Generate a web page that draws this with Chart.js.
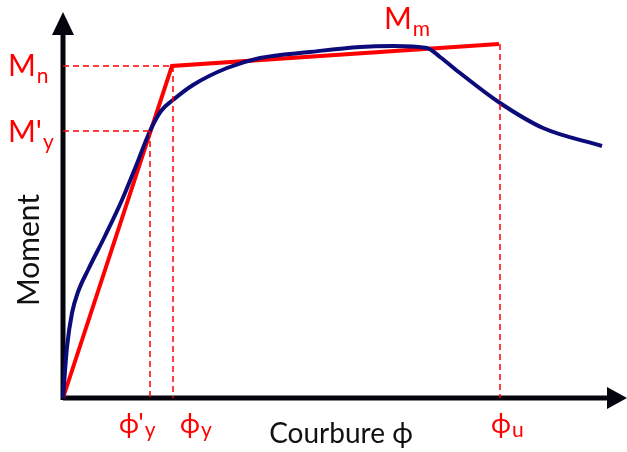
<!DOCTYPE html>
<html>
<head>
<meta charset="utf-8">
<script src="https://cdn.jsdelivr.net/npm/chart.js@4.4.1/dist/chart.umd.min.js"></script>
<style>
  body { margin: 0; background: #fff; }
  #wrap { width: 627px; height: 452px; }
</style>
</head>
<body>
<div id="wrap"><canvas id="myChart"></canvas></div>
<script>
// moment-curvature curve (arbitrary units)
const curvature = [0, 4, 9, 15, 25, 42, 59, 73, 87, 98, 110, 130, 164, 197, 247, 297, 330, 364, 377, 397, 437, 480, 539];
const moment    = [0, 51, 85, 106, 128, 162, 198, 232, 267, 287, 298, 313, 330, 340, 346, 351, 352, 350, 341, 325, 295, 270, 252];

// idealised bilinear
const bilinearPhi = [0, 109, 436];
const bilinearM   = [0, 332, 354];

// key values
const phiYPrime = 87;
const phiY = 110;
const phiU = 437;
const mYPrime = 267;
const mN = 332;
const mM = 354;

const ctx = document.getElementById('myChart').getContext('2d');

const red = '#ff0000';
const navy = '#0b0b7a';
const axisColor = '#05050f';
const font = 'Lato, "Open Sans", sans-serif';

function pts(xs, ys) {
    return xs.map((x, i) => ({ x: x, y: ys[i] }));
}

function dashed(xs, ys) {
    return {
        data: pts(xs, ys),
        borderColor: red,
        borderWidth: 1.5,
        borderDash: [6, 4],
        pointRadius: 0,
        fill: false
    };
}

// axes with arrowheads + labels
const sketchPlugin = {
    id: 'sketch',
    beforeDatasetsDraw(chart) {
        const c = chart.ctx;
        const sx = chart.scales.x, sy = chart.scales.y;
        const ox = sx.getPixelForValue(0), oy = sy.getPixelForValue(0);
        const xEnd = sx.getPixelForValue(sx.max), yEnd = sy.getPixelForValue(386);
        c.save();
        c.strokeStyle = axisColor;
        c.fillStyle = axisColor;
        c.lineWidth = 5;
        c.beginPath();
        c.moveTo(ox, oy);
        c.lineTo(xEnd - 16, oy);
        c.moveTo(ox, oy + 2);
        c.lineTo(ox, yEnd + 20);
        c.stroke();
        // x arrow
        c.beginPath();
        c.moveTo(xEnd, oy);
        c.lineTo(xEnd - 20, oy - 11);
        c.lineTo(xEnd - 20, oy + 11);
        c.closePath();
        c.fill();
        // y arrow
        c.beginPath();
        c.moveTo(ox, yEnd);
        c.lineTo(ox - 11, yEnd + 23);
        c.lineTo(ox + 11, yEnd + 23);
        c.closePath();
        c.fill();
        c.restore();
    },
    afterDraw(chart) {
        const c = chart.ctx;
        const sx = chart.scales.x, sy = chart.scales.y;
        const oy = sy.getPixelForValue(0);

        function sub(main, s, x, y, size, subSize, dy) {
            c.font = size + 'px ' + font;
            c.fillText(main, x, y);
            const w = c.measureText(main).width;
            c.font = subSize + 'px ' + font;
            c.fillText(s, x + w + 1, y + dy);
        }

        c.save();
        c.fillStyle = red;
        c.textBaseline = 'alphabetic';
        c.textAlign = 'left';
        sub('M', 'n', 8, sy.getPixelForValue(mN) + 10, 30, 21, 7);
        sub("M'", 'y', 8, sy.getPixelForValue(mYPrime) + 11, 30, 21, 7);
        sub('M', 'm', sx.getPixelForValue(phiU) - 116, sy.getPixelForValue(mM) - 15, 30, 21, 7);
        sub("\u03d5'", 'y', sx.getPixelForValue(phiYPrime) - 31, oy + 35, 27, 21, 4);
        sub('\u03d5', 'y', sx.getPixelForValue(phiY) + 7, oy + 35, 27, 21, 4);
        sub('\u03d5', 'u', sx.getPixelForValue(phiU) - 9, oy + 35, 27, 21, 4);

        c.fillStyle = '#111';
        c.font = '28px ' + font;
        c.textAlign = 'center';
        c.fillText('Courbure \u03d5', 341, oy + 45);
        c.font = '30px ' + font;
        c.translate(39, 250);
        c.rotate(-Math.PI / 2);
        c.fillText('Moment', 0, 0);
        c.restore();
    }
};

const config = {
    type: 'line',
    data: {
        datasets: [
            dashed([0, bilinearPhi[1]], [mN, mN]),
            dashed([phiY, phiY], [mN, 0]),
            dashed([0, phiYPrime], [mYPrime, mYPrime]),
            dashed([phiYPrime, phiYPrime], [mYPrime, 0]),
            dashed([phiU, phiU], [mM, 0]),
            {
                data: pts(curvature, moment),
                borderColor: navy,
                borderWidth: 4,
                pointRadius: 0,
                cubicInterpolationMode: 'monotone',
                fill: false
            },
            {
                data: pts(bilinearPhi, bilinearM),
                borderColor: red,
                borderWidth: 4,
                pointRadius: 0,
                fill: false
            }
        ]
    },
    options: {
        responsive: true,
        maintainAspectRatio: false,
        animation: false,
        layout: { padding: 0 },
        plugins: {
            legend: { display: false },
            tooltip: { enabled: false }
        },
        scales: {
            x: { type: 'linear', min: -63, max: 564, display: false },
            y: { type: 'linear', min: -54, max: 398, display: false }
        }
    },
    plugins: [sketchPlugin]
};

const myChart = new Chart(ctx, config);
</script>
</body>
</html>
